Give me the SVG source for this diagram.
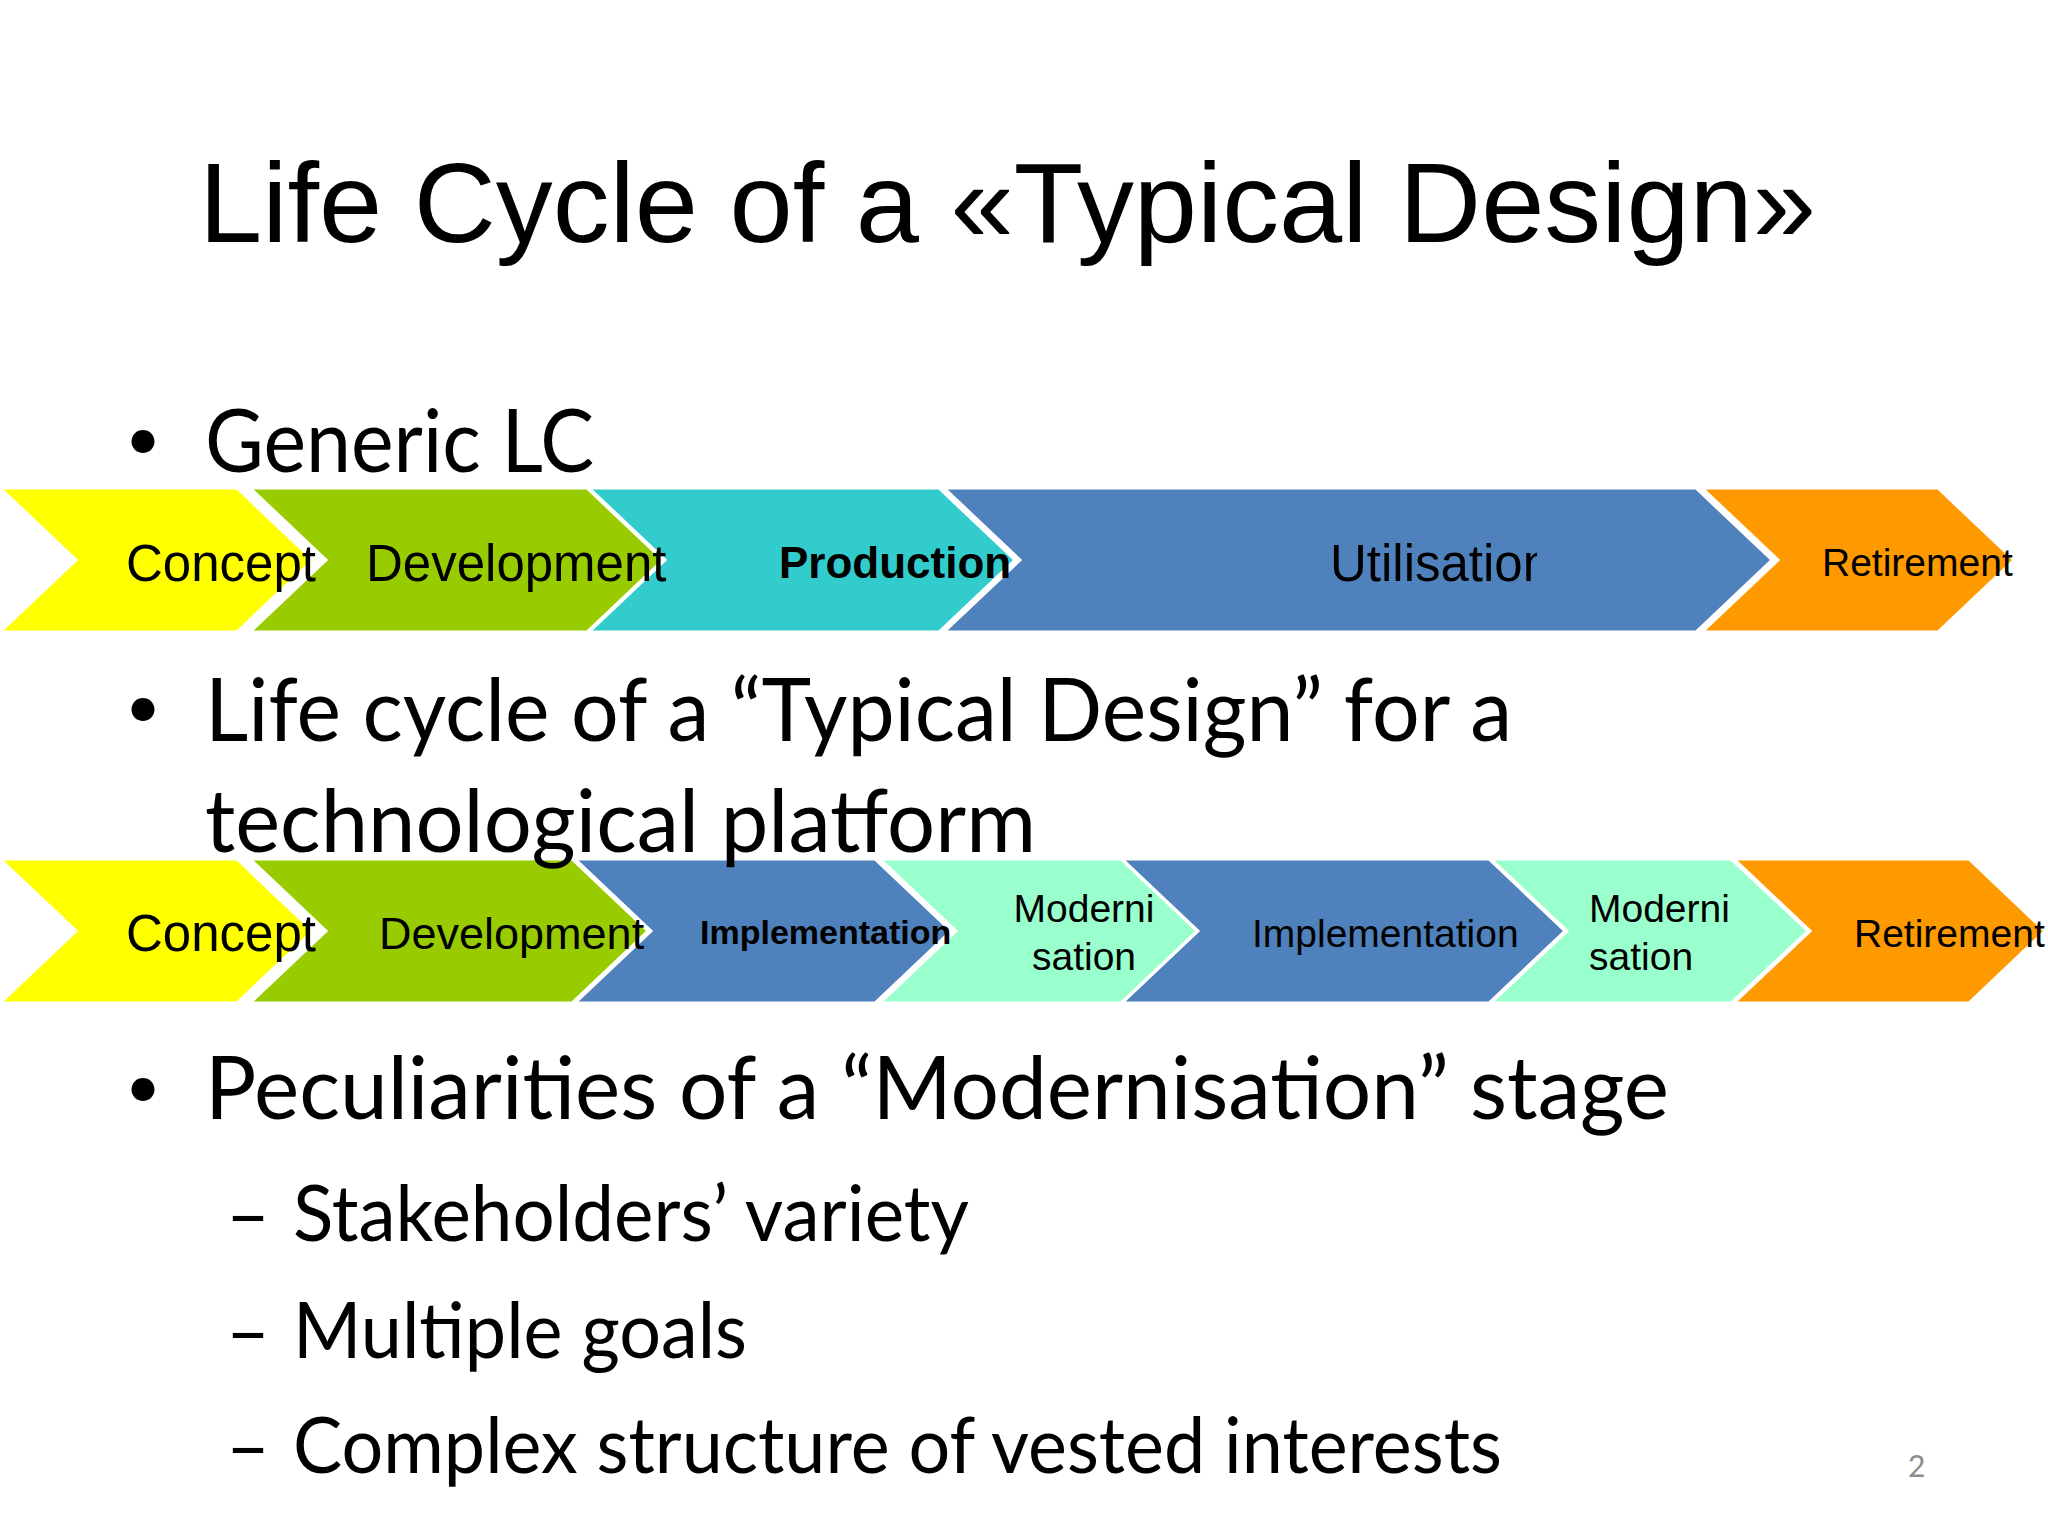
<svg xmlns="http://www.w3.org/2000/svg" width="2048" height="1536" viewBox="0 0 2048 1536">
  <defs>
    <style>
      .chev { stroke: #FFFFFF; stroke-width: 3; stroke-linejoin: miter; }
      .yellow { fill: #FFFF00; }
      .green { fill: #99CC00; }
      .teal { fill: #33CCCC; }
      .blue { fill: #4F81BD; }
      .orange { fill: #FF9900; }
      .mint { fill: #99FFCC; }
      .lbl { font-family: "Liberation Sans", Arial, sans-serif; fill: #000000; }
      .bold { font-weight: bold; }
      .title { font-family: "Liberation Sans", Arial, sans-serif; font-size: 113px; fill: #000000; }
      .body { font-family: Lato, "Open Sans", sans-serif; fill: #000000; }
      .main { font-size: 88px; }
      .sub { font-size: 78px; }
      .dot { font-size: 62px; }
    </style>
    <clipPath id="clipUtil">
      <rect x="1300" y="480" width="237" height="160"/>
    </clipPath>
  </defs>
  <rect x="0" y="0" width="2048" height="1536" fill="#FFFFFF"/>

  <text class="title" x="199" y="242" textLength="1617" lengthAdjust="spacingAndGlyphs">Life Cycle of a «Typical Design»</text>

  <g id="row1">
    <g id="r1-concept"><polygon class="chev yellow" points="0,488 237,488 313,560 237,632 0,632 76,560"/></g>
    <g id="r1-development"><polygon class="chev green" points="250,488 587,488 663,560 587,632 250,632 326,560"/></g>
    <g id="r1-production"><polygon class="chev teal" points="589,488 939,488 1015,560 939,632 589,632 665,560"/></g>
    <g id="r1-utilisation"><polygon class="chev blue" points="944,488 1696,488 1772,560 1696,632 944,632 1020,560"/></g>
    <g id="r1-retirement"><polygon class="chev orange" points="1702,488 1938,488 2014,560 1938,632 1702,632 1778,560"/></g>
    <text class="lbl" x="126" y="581" font-size="51">Concept</text>
    <text class="lbl" x="366" y="581" font-size="51">Development</text>
    <text class="lbl bold" x="779" y="578" font-size="44">Production</text>
    <text class="lbl" x="1330" y="581" font-size="51" clip-path="url(#clipUtil)">Utilisation</text>
    <text class="lbl" x="1822" y="576" font-size="39">Retirement</text>
  </g>

  <g id="row2">
    <g id="r2-concept"><polygon class="chev yellow" points="0,859 237,859 313,931 237,1003 0,1003 76,931"/></g>
    <g id="r2-development"><polygon class="chev green" points="250,859 572,859 648,931 572,1003 250,1003 326,931"/></g>
    <g id="r2-implementation1"><polygon class="chev blue" points="575,859 875,859 951,931 875,1003 575,1003 651,931"/></g>
    <g id="r2-modernisation1"><polygon class="chev mint" points="880,859 1121,859 1197,931 1121,1003 880,1003 956,931"/></g>
    <g id="r2-implementation2"><polygon class="chev blue" points="1122,859 1489,859 1565,931 1489,1003 1122,1003 1198,931"/></g>
    <g id="r2-modernisation2"><polygon class="chev mint" points="1491,859 1731,859 1808,931 1731,1003 1491,1003 1567,931"/></g>
    <g id="r2-retirement"><polygon class="chev orange" points="1734,859 1969,859 2045,931 1969,1003 1734,1003 1810,931"/></g>
    <text class="lbl" x="126" y="951" font-size="51">Concept</text>
    <text class="lbl" x="379" y="949" font-size="45">Development</text>
    <text class="lbl bold" x="700" y="944" font-size="34">Implementation</text>
    <text class="lbl" x="1084" y="922" font-size="39" text-anchor="middle">Moderni</text>
    <text class="lbl" x="1084" y="970" font-size="39" text-anchor="middle">sation</text>
    <text class="lbl" x="1252" y="947" font-size="39">Implementation</text>
    <text class="lbl" x="1589" y="922" font-size="39">Moderni</text>
    <text class="lbl" x="1589" y="970" font-size="39">sation</text>
    <text class="lbl" x="1854" y="947" font-size="39">Retirement</text>
  </g>

  <g id="bullets">
    <text class="body dot" x="125" y="460">•</text>
    <text class="body main" x="205" y="472" textLength="389" lengthAdjust="spacingAndGlyphs">Generic LC</text>
    <text class="body dot" x="125" y="728">•</text>
    <text class="body main" x="205" y="741" textLength="1307" lengthAdjust="spacingAndGlyphs">Life cycle of a “Typical Design” for a</text>
    <text class="body main" x="205" y="852" textLength="831" lengthAdjust="spacingAndGlyphs">technological platform</text>
    <text class="body dot" x="125" y="1108">•</text>
    <text class="body main" x="205" y="1119" textLength="1464" lengthAdjust="spacingAndGlyphs">Peculiarities of a “Modernisation” stage</text>
    <text class="body sub" x="226" y="1241" textLength="44" lengthAdjust="spacingAndGlyphs">–</text>
    <text class="body sub" x="293" y="1241" textLength="676" lengthAdjust="spacingAndGlyphs">Stakeholders’ variety</text>
    <text class="body sub" x="226" y="1358" textLength="44" lengthAdjust="spacingAndGlyphs">–</text>
    <text class="body sub" x="293" y="1358" textLength="454" lengthAdjust="spacingAndGlyphs">Multiple goals</text>
    <text class="body sub" x="226" y="1473" textLength="44" lengthAdjust="spacingAndGlyphs">–</text>
    <text class="body sub" x="293" y="1473" textLength="1209" lengthAdjust="spacingAndGlyphs">Complex structure of vested interests</text>
  </g>

  <text x="1908" y="1477" font-family="Lato, 'Open Sans', sans-serif" font-size="30" fill="#8C8C8C">2</text>
</svg>
